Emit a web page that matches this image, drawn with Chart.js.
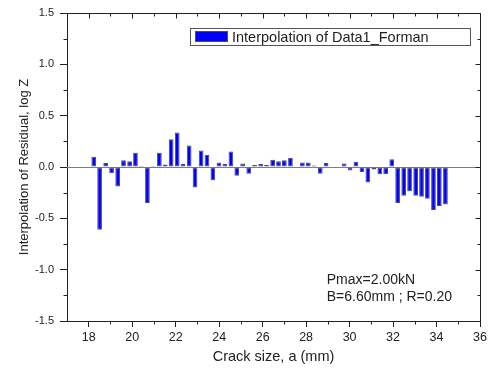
<!DOCTYPE html>
<html>
<head>
<meta charset="utf-8">
<script src="https://cdn.jsdelivr.net/npm/chart.js@4.4.1/dist/chart.umd.min.js"></script>
<style>
  html, body { margin: 0; padding: 0; background: #fff; }
</style>
</head>
<body>
<canvas id="myChart" width="490" height="369"></canvas>
<script>
// crack size (mm) of each bar
const crackSize = [
    18.23, 18.50, 18.78, 19.05, 19.33, 19.60, 19.88, 20.15, 20.42, 20.70,
    20.97, 21.25, 21.52, 21.79, 22.07, 22.34, 22.62, 22.89, 23.17, 23.44,
    23.71, 23.99, 24.26, 24.54, 24.81, 25.08, 25.36, 25.63, 25.91, 26.18,
    26.46, 26.73, 27.00, 27.28, 27.55, 27.83, 28.10, 28.37, 28.65, 28.92,
    29.20, 29.47, 29.75, 30.02, 30.29, 30.57, 30.84, 31.12, 31.39, 31.66,
    31.94, 32.21, 32.49, 32.76, 33.04, 33.31, 33.58, 33.86, 34.13, 34.41
];
// interpolated residual, log Z
const residual = [
    0.10, -0.61, 0.04, -0.06, -0.19, 0.065, 0.055, 0.14, 0.01, -0.35,
    0.01, 0.14, 0.025, 0.27, 0.335, 0.03, 0.21, -0.20, 0.16, 0.12,
    -0.13, 0.045, 0.03, 0.15, -0.085, 0.035, -0.065, 0.02, 0.03, 0.02,
    0.07, 0.055, 0.065, 0.09, 0, 0.045, 0.045, 0.015, -0.065, 0.04,
    0, 0.005, 0.035, -0.035, 0.05, -0.05, -0.15, -0.025, -0.07, -0.07,
    0.075, -0.35, -0.28, -0.235, -0.28, -0.29, -0.31, -0.42, -0.38, -0.365
];
const xTicks = [18, 20, 22, 24, 26, 28, 30, 32, 34, 36];
const xMinorTicks = [19, 21, 23, 25, 27, 29, 31, 33, 35];
const yTicks = [-1.5, -1.0, -0.5, 0.0, 0.5, 1.0, 1.5];
const yMinorTicks = [-1.25, -0.75, -0.25, 0.25, 0.75, 1.25];
const seriesName = "Interpolation of Data1_Forman";
const noteLines = ["Pmax=2.00kN", "B=6.60mm ; R=0.20"];

const FONT = "'Liberation Sans', Arial, sans-serif";
const INK = '#222';
const BAR_FILL = '#0000ff';
const BAR_EDGE = '#4a4a80';

Chart.defaults.font.family = FONT;
Chart.defaults.color = INK;

// frame, minor ticks, zero line, legend box and note text
const framePlugin = {
    id: 'frame',
    beforeDatasetsDraw(chart) {
        const { ctx, chartArea: a, scales: { y } } = chart;
        const y0 = Math.round(y.getPixelForValue(0)) + 0.5;
        ctx.save();
        ctx.strokeStyle = '#808080';
        ctx.lineWidth = 1;
        ctx.beginPath();
        ctx.moveTo(a.left, y0);
        ctx.lineTo(a.right, y0);
        ctx.stroke();
        ctx.restore();
    },
    afterDraw(chart) {
        const { ctx, chartArea: a, scales: { x, y } } = chart;
        const L = Math.round(a.left) + 0.5, R = Math.round(a.right) + 0.5;
        const T = Math.round(a.top) + 0.5, B = Math.round(a.bottom) + 0.5;
        ctx.save();
        ctx.strokeStyle = INK;
        ctx.lineWidth = 1;
        ctx.beginPath();
        // top and right frame lines
        ctx.moveTo(L, T); ctx.lineTo(R, T); ctx.lineTo(R, B);
        // x ticks: top inward, minor bottom outward
        xTicks.concat(xMinorTicks).forEach(v => {
            const px = Math.round(x.getPixelForValue(v)) + 0.5;
            const major = xTicks.includes(v);
            ctx.moveTo(px, T); ctx.lineTo(px, T + (major ? 5 : 3));
            if (!major) { ctx.moveTo(px, B); ctx.lineTo(px, B + 3); }
        });
        // y ticks: right inward, minor left outward
        yTicks.concat(yMinorTicks).forEach(v => {
            const py = Math.round(y.getPixelForValue(v)) + 0.5;
            const major = yTicks.includes(v);
            ctx.moveTo(R, py); ctx.lineTo(R - (major ? 5 : 3), py);
            if (!major) { ctx.moveTo(L, py); ctx.lineTo(L - 4, py); }
        });
        ctx.stroke();

        // legend box
        const bx = Math.round(a.right) - 290, by = Math.round(a.top) + 15;
        ctx.fillStyle = '#fff';
        ctx.fillRect(bx, by, 280, 17);
        ctx.strokeStyle = '#555';
        ctx.strokeRect(bx + 0.5, by + 0.5, 280, 17);
        ctx.fillStyle = BAR_FILL;
        ctx.fillRect(bx + 5, by + 3, 33, 11);
        ctx.strokeStyle = BAR_EDGE;
        ctx.strokeRect(bx + 5.5, by + 3.5, 32, 10);
        ctx.fillStyle = INK;
        ctx.font = '14.5px ' + FONT;
        ctx.textBaseline = 'middle';
        ctx.textAlign = 'left';
        ctx.fillText(seriesName, bx + 42, by + 9.5);

        // test conditions
        ctx.font = '14px ' + FONT;
        ctx.fillText(noteLines[0], x.getPixelForValue(28.95), y.getPixelForValue(-1.105));
        ctx.fillText(noteLines[1], x.getPixelForValue(28.95), y.getPixelForValue(-1.27));
        ctx.restore();
    }
};

new Chart(document.getElementById('myChart'), {
    type: 'bar',
    data: {
        datasets: [{
            label: seriesName,
            data: crackSize.map((c, i) => ({ x: c, y: residual[i] })),
            backgroundColor: BAR_FILL,
            borderColor: BAR_EDGE,
            borderWidth: 1,
            borderSkipped: false,
            barPercentage: 0.8,
            categoryPercentage: 1.0
        }]
    },
    options: {
        responsive: false,
        animation: false,
        layout: { padding: { top: 13, right: 10, left: 0, bottom: 0 } },
        plugins: {
            legend: { display: false },
            tooltip: { enabled: false }
        },
        scales: {
            x: {
                type: 'linear',
                offset: false,
                min: 17,
                max: 36,
                afterBuildTicks: s => { s.ticks = xTicks.map(v => ({ value: v })); },
                afterFit: s => { s.height = 48; },
                grid: { offset: false, drawOnChartArea: false, drawTicks: true, tickLength: 6, color: INK },
                border: { display: true, color: INK, width: 1 },
                ticks: { font: { size: 12.5 }, padding: 3, maxRotation: 0, color: INK },
                title: {
                    display: true,
                    text: 'Crack size, a (mm)',
                    font: { size: 14.5 },
                    padding: { top: 0, bottom: 3 },
                    color: INK
                }
            },
            y: {
                min: -1.5,
                max: 1.5,
                afterBuildTicks: s => { s.ticks = yTicks.map(v => ({ value: v })); },
                afterFit: s => { s.width = 67; },
                grid: { drawOnChartArea: false, drawTicks: true, tickLength: 7, color: INK },
                border: { display: true, color: INK, width: 1 },
                ticks: {
                    font: { size: 11 },
                    padding: 6,
                    color: INK,
                    callback: v => Number(v).toFixed(1)
                },
                title: {
                    display: true,
                    text: 'Interpolation of Residual, log Z',
                    font: { size: 13 },
                    padding: { top: 17, bottom: 0 },
                    color: INK
                }
            }
        }
    },
    plugins: [framePlugin]
});
</script>
</body>
</html>
